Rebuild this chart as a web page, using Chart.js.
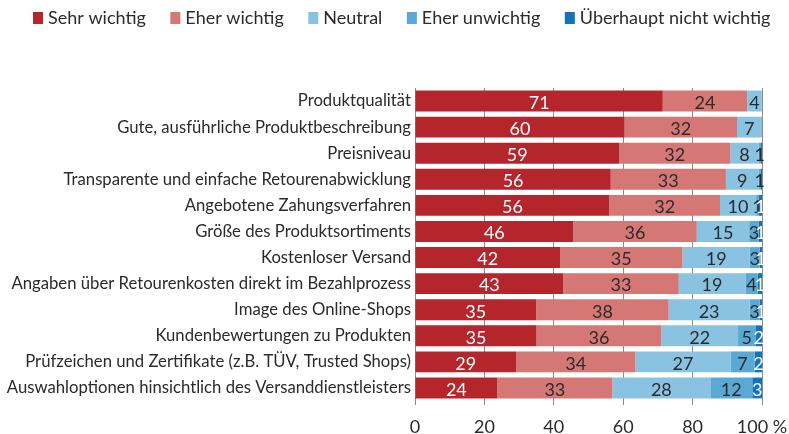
<!DOCTYPE html>
<html>
<head>
<meta charset="utf-8">
<script src="https://cdn.jsdelivr.net/npm/chart.js@4.4.1/dist/chart.umd.min.js"></script>
<style>
  html, body { margin: 0; padding: 0; background: #fff; }
  #wrap { width: 789px; height: 434px; }
</style>
</head>
<body>
<div id="wrap"><canvas id="chart"></canvas></div>
<script>
const categories = [
  "Produktqualität",
  "Gute, ausführliche Produktbeschreibung",
  "Preisniveau",
  "Transparente und einfache Retourenabwicklung",
  "Angebotene Zahungsverfahren",
  "Größe des Produktsortiments",
  "Kostenloser Versand",
  "Angaben über Retourenkosten direkt im Bezahlprozess",
  "Image des Online-Shops",
  "Kundenbewertungen zu Produkten",
  "Prüfzeichen und Zertifikate (z.B. TÜV, Trusted Shops)",
  "Auswahloptionen hinsichtlich des Versanddienstleisters"
];
const seriesNames = ["Sehr wichtig", "Eher wichtig", "Neutral", "Eher unwichtig", "Überhaupt nicht wichtig"];
const sehrWichtig     = [71.4, 60.4, 58.8, 56.4, 56.0, 45.6, 41.8, 42.7, 34.9, 35.0, 29.1, 23.7];
const eherWichtig     = [24.3, 32.4, 32.1, 33.2, 31.9, 35.6, 35.3, 33.3, 38.2, 36.0, 34.4, 33.2];
const neutral         = [4.2, 7.0, 8.1, 9.4, 10.4, 15.1, 19.4, 19.2, 23.3, 22.1, 27.4, 28.2];
const eherUnwichtig   = [0.1, 0.2, 0.7, 0.7, 0.8, 2.8, 2.8, 3.6, 2.9, 5.0, 7.0, 12.1];
const ueberhauptNicht = [0, 0, 0.3, 0.3, 0.9, 0.9, 0.7, 1.2, 0.7, 1.9, 2.1, 2.8];
const xTicks = [0, 20, 40, 60, 80, 100];

const colors = ["#b5252c", "#d47775", "#8ac3e2", "#5aa8d4", "#1473ba"];
const labelColors = ["#ffffff", "#2b2b2b", "#2b2b2b", "#2b2b2b", "#ffffff"];
const allSeries = [sehrWichtig, eherWichtig, neutral, eherUnwichtig, ueberhauptNicht];

Chart.defaults.font.family = "Lato, 'Open Sans', sans-serif";
Chart.defaults.color = "#333";

// value labels in the middle of each segment
const barLabels = {
  id: "barLabels",
  afterDatasetsDraw(chart) {
    const ctx = chart.ctx;
    ctx.save();
    ctx.font = "18px Lato";
    ctx.textAlign = "center";
    ctx.textBaseline = "middle";
    chart.data.datasets.forEach((ds, i) => {
      const meta = chart.getDatasetMeta(i);
      meta.data.forEach((bar, j) => {
        const v = ds.data[j];
        if (v < 0.5) return;
        ctx.fillStyle = labelColors[i];
        ctx.fillText(Math.round(v), (bar.x + bar.base) / 2, bar.y + 2);
      });
    });
    ctx.restore();
  }
};

// legend row at the top, tighter than the built-in one
const topLegend = {
  id: "topLegend",
  afterDraw(chart) {
    const ctx = chart.ctx;
    ctx.save();
    ctx.font = "18px Lato";
    ctx.textBaseline = "middle";
    let x = 33;
    const y = 18;
    chart.data.datasets.forEach(ds => {
      ctx.fillStyle = ds.backgroundColor;
      ctx.fillRect(x, y - 6, 10, 12);
      x += 15;
      ctx.fillStyle = "#2b2b2b";
      ctx.fillText(ds.label, x, y);
      x += ctx.measureText(ds.label).width + 24.5;
    });
    ctx.restore();
  }
};

new Chart(document.getElementById("chart"), {
  type: "bar",
  data: {
    labels: categories,
    datasets: allSeries.map((d, i) => ({
      label: seriesNames[i],
      data: d,
      backgroundColor: colors[i],
      borderWidth: 0,
      barPercentage: 0.8,
      categoryPercentage: 1
    }))
  },
  options: {
    indexAxis: "y",
    responsive: true,
    maintainAspectRatio: false,
    animation: false,
    layout: { padding: { left: 0, right: 27, top: 88, bottom: 0 } },
    plugins: {
      tooltip: { enabled: false },
      legend: { display: false }
    },
    scales: {
      x: {
        stacked: true,
        min: 0,
        max: 100,
        afterBuildTicks(scale) { scale.ticks = xTicks.map(v => ({ value: v })); },
        afterFit(scale) {
          scale.height = 33;
          scale.paddingLeft = 0;
          scale.paddingRight = 0;
        },
        ticks: {
          padding: 11,
          color: "#2b2b2b",
          font: { size: 18 },
          callback: v => (v === 100 ? "100 %" : v)
        },
        grid: { color: "#8a8a8a", lineWidth: 1, tickLength: 4 },
        border: { display: false }
      },
      y: {
        stacked: true,
        afterFit(scale) {
          scale.width = 415;
          scale.paddingTop = 0;
          scale.paddingBottom = 0;
        },
        ticks: { padding: 4, color: "#2b2b2b", font: { size: 16.7 } },
        grid: { display: false, drawTicks: false },
        border: { display: true, color: "#8a8a8a" }
      }
    }
  },
  plugins: [barLabels, topLegend]
});
</script>
</body>
</html>
